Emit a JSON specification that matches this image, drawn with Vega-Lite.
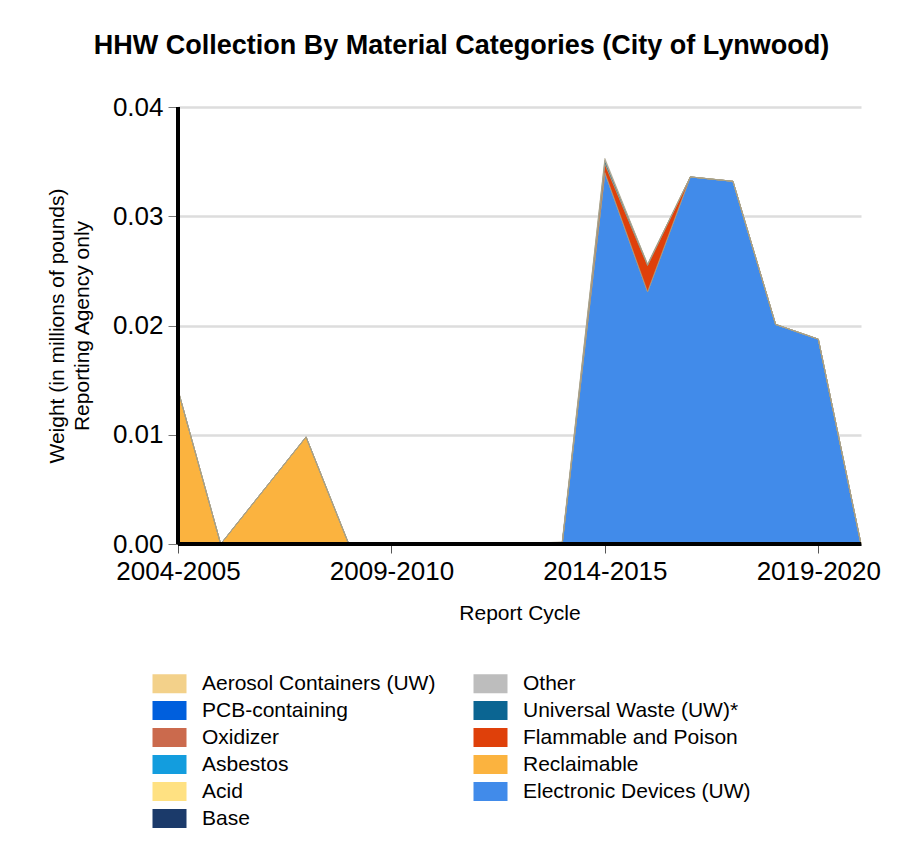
{
  "$schema": "https://vega.github.io/schema/vega-lite/v6.json",
  "width": 683,
  "height": 437,
  "autosize": {"type": "none"},
  "padding": {"left": 178, "top": 107, "right": 56, "bottom": 320},
  "background": "white",
  "title": {
    "text": "HHW Collection By Material Categories (City of Lynwood)",
    "font": "Liberation Sans",
    "fontSize": 27,
    "fontWeight": "bold",
    "color": "black",
    "anchor": "middle",
    "frame": "group",
    "dx": -58,
    "offset": 34
  },
  "config": {
    "font": "Liberation Sans",
    "view": {"stroke": null},
    "axis": {"labelFont": "Liberation Sans", "titleFont": "Liberation Sans"}
  },
  "data": {
    "values": [
      {"cycle": "2004-2005", "category": "Electronic Devices (UW)", "rank": 1, "weight": 0},
      {"cycle": "2005-2006", "category": "Electronic Devices (UW)", "rank": 1, "weight": 0},
      {"cycle": "2006-2007", "category": "Electronic Devices (UW)", "rank": 1, "weight": 0},
      {"cycle": "2007-2008", "category": "Electronic Devices (UW)", "rank": 1, "weight": 0},
      {"cycle": "2008-2009", "category": "Electronic Devices (UW)", "rank": 1, "weight": 0},
      {"cycle": "2009-2010", "category": "Electronic Devices (UW)", "rank": 1, "weight": 0},
      {"cycle": "2010-2011", "category": "Electronic Devices (UW)", "rank": 1, "weight": 0},
      {"cycle": "2011-2012", "category": "Electronic Devices (UW)", "rank": 1, "weight": 0},
      {"cycle": "2012-2013", "category": "Electronic Devices (UW)", "rank": 1, "weight": 0},
      {"cycle": "2013-2014", "category": "Electronic Devices (UW)", "rank": 1, "weight": 0},
      {"cycle": "2014-2015", "category": "Electronic Devices (UW)", "rank": 1, "weight": 0.0340},
      {"cycle": "2015-2016", "category": "Electronic Devices (UW)", "rank": 1, "weight": 0.0231},
      {"cycle": "2016-2017", "category": "Electronic Devices (UW)", "rank": 1, "weight": 0.0336},
      {"cycle": "2017-2018", "category": "Electronic Devices (UW)", "rank": 1, "weight": 0.0332},
      {"cycle": "2018-2019", "category": "Electronic Devices (UW)", "rank": 1, "weight": 0.0201},
      {"cycle": "2019-2020", "category": "Electronic Devices (UW)", "rank": 1, "weight": 0.01875},
      {"cycle": "2020-2021", "category": "Electronic Devices (UW)", "rank": 1, "weight": 0},

      {"cycle": "2004-2005", "category": "Reclaimable", "rank": 2, "weight": 0.0141},
      {"cycle": "2005-2006", "category": "Reclaimable", "rank": 2, "weight": 0},
      {"cycle": "2006-2007", "category": "Reclaimable", "rank": 2, "weight": 0.0049},
      {"cycle": "2007-2008", "category": "Reclaimable", "rank": 2, "weight": 0.0098},
      {"cycle": "2008-2009", "category": "Reclaimable", "rank": 2, "weight": 0},
      {"cycle": "2009-2010", "category": "Reclaimable", "rank": 2, "weight": 0},
      {"cycle": "2010-2011", "category": "Reclaimable", "rank": 2, "weight": 0},
      {"cycle": "2011-2012", "category": "Reclaimable", "rank": 2, "weight": 0},
      {"cycle": "2012-2013", "category": "Reclaimable", "rank": 2, "weight": 0},
      {"cycle": "2013-2014", "category": "Reclaimable", "rank": 2, "weight": 0},
      {"cycle": "2014-2015", "category": "Reclaimable", "rank": 2, "weight": 0},
      {"cycle": "2015-2016", "category": "Reclaimable", "rank": 2, "weight": 0},
      {"cycle": "2016-2017", "category": "Reclaimable", "rank": 2, "weight": 0},
      {"cycle": "2017-2018", "category": "Reclaimable", "rank": 2, "weight": 0},
      {"cycle": "2018-2019", "category": "Reclaimable", "rank": 2, "weight": 0},
      {"cycle": "2019-2020", "category": "Reclaimable", "rank": 2, "weight": 0},
      {"cycle": "2020-2021", "category": "Reclaimable", "rank": 2, "weight": 0},

      {"cycle": "2004-2005", "category": "Flammable and Poison", "rank": 3, "weight": 0},
      {"cycle": "2005-2006", "category": "Flammable and Poison", "rank": 3, "weight": 0},
      {"cycle": "2006-2007", "category": "Flammable and Poison", "rank": 3, "weight": 0},
      {"cycle": "2007-2008", "category": "Flammable and Poison", "rank": 3, "weight": 0},
      {"cycle": "2008-2009", "category": "Flammable and Poison", "rank": 3, "weight": 0},
      {"cycle": "2009-2010", "category": "Flammable and Poison", "rank": 3, "weight": 0},
      {"cycle": "2010-2011", "category": "Flammable and Poison", "rank": 3, "weight": 0},
      {"cycle": "2011-2012", "category": "Flammable and Poison", "rank": 3, "weight": 0},
      {"cycle": "2012-2013", "category": "Flammable and Poison", "rank": 3, "weight": 0},
      {"cycle": "2013-2014", "category": "Flammable and Poison", "rank": 3, "weight": 0},
      {"cycle": "2014-2015", "category": "Flammable and Poison", "rank": 3, "weight": 0.0008},
      {"cycle": "2015-2016", "category": "Flammable and Poison", "rank": 3, "weight": 0.0024},
      {"cycle": "2016-2017", "category": "Flammable and Poison", "rank": 3, "weight": 0},
      {"cycle": "2017-2018", "category": "Flammable and Poison", "rank": 3, "weight": 0},
      {"cycle": "2018-2019", "category": "Flammable and Poison", "rank": 3, "weight": 0},
      {"cycle": "2019-2020", "category": "Flammable and Poison", "rank": 3, "weight": 0},
      {"cycle": "2020-2021", "category": "Flammable and Poison", "rank": 3, "weight": 0},

      {"cycle": "2004-2005", "category": "Universal Waste (UW)*", "rank": 4, "weight": 0},
      {"cycle": "2005-2006", "category": "Universal Waste (UW)*", "rank": 4, "weight": 0},
      {"cycle": "2006-2007", "category": "Universal Waste (UW)*", "rank": 4, "weight": 0},
      {"cycle": "2007-2008", "category": "Universal Waste (UW)*", "rank": 4, "weight": 0},
      {"cycle": "2008-2009", "category": "Universal Waste (UW)*", "rank": 4, "weight": 0},
      {"cycle": "2009-2010", "category": "Universal Waste (UW)*", "rank": 4, "weight": 0},
      {"cycle": "2010-2011", "category": "Universal Waste (UW)*", "rank": 4, "weight": 0},
      {"cycle": "2011-2012", "category": "Universal Waste (UW)*", "rank": 4, "weight": 0},
      {"cycle": "2012-2013", "category": "Universal Waste (UW)*", "rank": 4, "weight": 0},
      {"cycle": "2013-2014", "category": "Universal Waste (UW)*", "rank": 4, "weight": 0.0001},
      {"cycle": "2014-2015", "category": "Universal Waste (UW)*", "rank": 4, "weight": 0.0003},
      {"cycle": "2015-2016", "category": "Universal Waste (UW)*", "rank": 4, "weight": 0.0001},
      {"cycle": "2016-2017", "category": "Universal Waste (UW)*", "rank": 4, "weight": 0},
      {"cycle": "2017-2018", "category": "Universal Waste (UW)*", "rank": 4, "weight": 0},
      {"cycle": "2018-2019", "category": "Universal Waste (UW)*", "rank": 4, "weight": 0},
      {"cycle": "2019-2020", "category": "Universal Waste (UW)*", "rank": 4, "weight": 0},
      {"cycle": "2020-2021", "category": "Universal Waste (UW)*", "rank": 4, "weight": 0},

      {"cycle": "2004-2005", "category": "Other", "rank": 5, "weight": 0},
      {"cycle": "2005-2006", "category": "Other", "rank": 5, "weight": 0},
      {"cycle": "2006-2007", "category": "Other", "rank": 5, "weight": 0},
      {"cycle": "2007-2008", "category": "Other", "rank": 5, "weight": 0},
      {"cycle": "2008-2009", "category": "Other", "rank": 5, "weight": 0},
      {"cycle": "2009-2010", "category": "Other", "rank": 5, "weight": 0},
      {"cycle": "2010-2011", "category": "Other", "rank": 5, "weight": 0},
      {"cycle": "2011-2012", "category": "Other", "rank": 5, "weight": 0},
      {"cycle": "2012-2013", "category": "Other", "rank": 5, "weight": 0},
      {"cycle": "2013-2014", "category": "Other", "rank": 5, "weight": 0.0001},
      {"cycle": "2014-2015", "category": "Other", "rank": 5, "weight": 0.0002},
      {"cycle": "2015-2016", "category": "Other", "rank": 5, "weight": 0},
      {"cycle": "2016-2017", "category": "Other", "rank": 5, "weight": 0},
      {"cycle": "2017-2018", "category": "Other", "rank": 5, "weight": 0},
      {"cycle": "2018-2019", "category": "Other", "rank": 5, "weight": 0},
      {"cycle": "2019-2020", "category": "Other", "rank": 5, "weight": 0},
      {"cycle": "2020-2021", "category": "Other", "rank": 5, "weight": 0}
    ]
  },
  "encoding": {
    "x": {
      "field": "cycle",
      "type": "ordinal",
      "sort": null,
      "scale": {"type": "point", "padding": 0},
      "axis": {
        "title": "Report Cycle",
        "values": ["2004-2005", "2009-2010", "2014-2015", "2019-2020"],
        "labelAngle": 0,
        "labelFontSize": 26,
        "labelColor": "black",
        "labelPadding": 5,
        "tickSize": 9,
        "tickColor": "#555",
        "tickWidth": 1,
        "domainColor": "black",
        "domainWidth": 3,
        "titleFontSize": 21,
        "titleFontWeight": "normal",
        "titleColor": "black",
        "titlePadding": 18,
        "grid": false
      }
    },
    "y": {
      "field": "weight",
      "type": "quantitative",
      "stack": "zero",
      "scale": {"domain": [0, 0.04], "nice": false},
      "axis": {
        "title": ["Weight (in millions of pounds)", "Reporting Agency only"],
        "values": [0, 0.01, 0.02, 0.03, 0.04],
        "format": ".2f",
        "labelFontSize": 26,
        "labelColor": "black",
        "labelPadding": 5,
        "tickSize": 10,
        "tickColor": "#777",
        "tickWidth": 1,
        "domainColor": "black",
        "domainWidth": 2.5,
        "grid": true,
        "gridColor": "#dddddd",
        "gridWidth": 2.5,
        "titleFontSize": 21,
        "titleFontWeight": "normal",
        "titleColor": "black",
        "titleLineHeight": 25,
        "titlePadding": 20
      }
    }
  },
  "layer": [
    {
      "mark": {"type": "area", "stroke": "#a8a088", "strokeWidth": 0.8, "strokeOpacity": 0.8, "opacity": 1},
      "encoding": {
        "color": {
          "field": "category",
          "type": "nominal",
          "scale": {
            "domain": ["Aerosol Containers (UW)", "PCB-containing", "Oxidizer", "Asbestos", "Acid", "Base", "Other", "Universal Waste (UW)*", "Flammable and Poison", "Reclaimable", "Electronic Devices (UW)"],
            "range": ["#f3d18a", "#005fdd", "#cb6a4d", "#139dde", "#ffe182", "#1b3a6a", "#bdbdbd", "#0b6592", "#df400a", "#fbb33f", "#418bea"]
          },
          "legend": {
            "orient": "none",
            "legendX": -19,
            "legendY": 566,
            "title": null,
            "columns": 2,
            "columnPadding": 37,
            "rowPadding": 5,
            "padding": 0,
            "symbolType": "M-1.889,-1.056H1.889V1.056H-1.889Z",
            "symbolSize": 324,
            "symbolStrokeWidth": 0,
            "symbolOpacity": 1,
            "labelOffset": 22,
            "labelFontSize": 21,
            "labelColor": "black",
            "labelFont": "Liberation Sans",
            "labelLimit": 400
          }
        },
        "order": {"field": "rank", "type": "quantitative", "sort": "ascending"}
      }
    },
    {
      "mark": {"type": "rule", "color": "black", "strokeWidth": 2.5},
      "encoding": {"x": {"datum": "2004-2005"}, "y": null}
    },
    {
      "mark": {"type": "rule", "color": "black", "strokeWidth": 3},
      "encoding": {"y": {"datum": 0}, "x": null}
    }
  ]
}
